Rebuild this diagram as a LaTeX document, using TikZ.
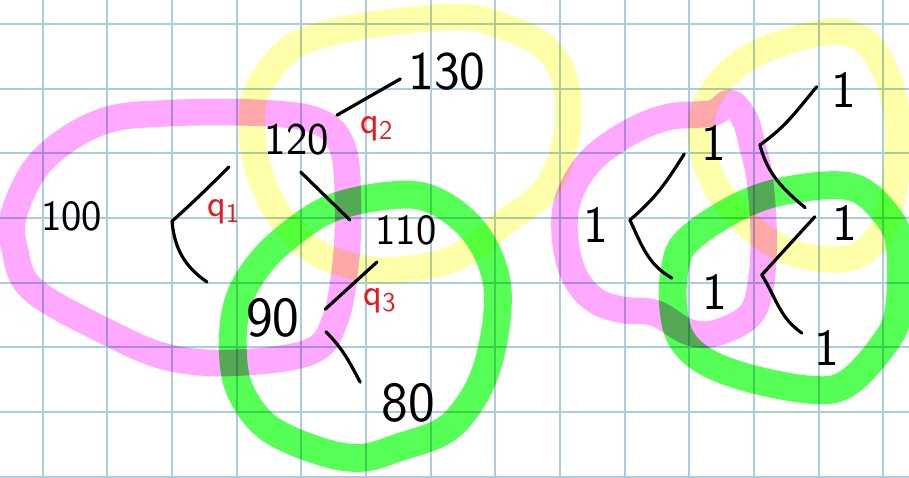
\documentclass[tikz,border=0pt]{standalone}
\usepackage{tikz}

\definecolor{gridblue}{RGB}{170,205,226}
\definecolor{hlpink}{RGB}{255,168,255}
\definecolor{hlyellow}{RGB}{255,255,170}
\definecolor{hlgreen}{RGB}{85,255,85}
\definecolor{qred}{RGB}{232,24,30}

\tikzset{
  pen/.style={line width=1.4pt, line cap=round, black},
  marker/.style={line width=0.41cm, line join=round, line cap=round},
  num/.style={inner sep=0pt, font=\sffamily\fontsize{19}{19}\selectfont},
  bignum/.style={inner sep=0pt, font=\sffamily\fontsize{25}{25}\selectfont},
  one/.style={inner sep=0pt, font=\sffamily\fontsize{23}{23}\selectfont},
  qlab/.style={inner sep=0pt, text=qred, font=\sffamily\fontsize{17}{17}\selectfont}
}

\begin{document}
\begin{tikzpicture}

\useasboundingbox (0,0) rectangle (14.056,7.391);
\clip (0,0) rectangle (14.056,7.391);

\fill[white] (0,0) rectangle (14.056,7.391);
\draw[gridblue, line width=0.9pt, xshift=0.66cm, yshift=0.02cm] (-1,-1) grid (14,8);

% left tree
\node[num] (n100) at (1.11,4.05) {100};
\node[num, font=\sffamily\fontsize{20}{20}\selectfont] (n120) at (4.59,5.23) {120};
\node[num, font=\sffamily\fontsize{24}{24}\selectfont] (n130) at (6.91,6.28) {130};
\node[num] (n110) at (6.28,3.83) {110};
\node[bignum] (n90) at (4.22,2.47) {90};
\node[bignum] (n80) at (6.31,1.16) {80};

\node[qlab] (q1) at (3.46,4.12) {q\textsubscript{1}};
\node[qlab] (q2) at (5.83,5.40) {q\textsubscript{2}};
\node[qlab] (q3) at (5.88,2.74) {q\textsubscript{3}};

\coordinate (ja) at (2.66,3.97);
\coordinate (ja1) at (3.54,4.81);
\coordinate (ja2) at (3.20,3.03);
\draw[pen] (ja) to[out=42,in=-135] (ja1);
\draw[pen] (ja) to[out=-85,in=145] (ja2);

\coordinate (b1) at (4.65,4.73);
\coordinate (b2) at (5.41,3.99);
\draw[pen] (b1) -- (b2);
\coordinate (c1) at (5.21,5.61);
\coordinate (c2) at (6.19,6.17);
\draw[pen] (c1) -- (c2);
\coordinate (d1) at (5.83,3.34);
\coordinate (d2) at (5.03,2.61);
\draw[pen] (d1) -- (d2);
\coordinate (e1) at (5.04,2.26);
\coordinate (e2) at (5.57,1.48);
\draw[pen] (e1) to[out=-45,in=118] (e2);

% right tree
\node[one] (r1) at (9.22,3.91) {1};
\node[one] (r2) at (11.03,5.18) {1};
\node[one] (r3) at (13.04,6.00) {1};
\node[one] (r4) at (13.07,3.94) {1};
\node[one] (r5) at (11.06,2.88) {1};
\node[one] (r6) at (12.79,2.01) {1};

\coordinate (jr1) at (9.74,3.99);
\coordinate (jr1a) at (10.58,5.01);
\coordinate (jr1b) at (10.39,3.09);
\draw[pen] (jr1) to[out=40,in=-122] (jr1a);
\draw[pen] (jr1) to[out=-65,in=150] (jr1b);

\coordinate (jr2) at (11.75,5.15);
\coordinate (jr2a) at (12.63,6.05);
\coordinate (jr2b) at (12.45,4.18);
\draw[pen] (jr2) to[out=35,in=-130] (jr2a);
\draw[pen] (jr2) to[out=-75,in=140] (jr2b);

\coordinate (jr3) at (11.78,3.14);
\coordinate (jr3a) at (12.60,4.04);
\coordinate (jr3b) at (12.40,2.24);
\draw[pen] (jr3) -- (jr3a);
\draw[pen] (jr3) to[out=-58,in=145] (jr3b);

% highlighter loops
\begin{scope}[blend mode=multiply]

\draw[marker, hlpink] plot[smooth cycle, tension=0.6] coordinates {
  (2.58,5.64) (4.13,5.64) (4.95,5.50) (5.30,5.10) (5.38,4.30) (5.35,3.37)
  (5.18,2.44) (4.79,1.95) (3.60,1.78) (2.58,1.87) (1.65,2.26) (0.51,2.91)
  (0.23,3.53) (0.22,4.10) (0.66,4.92) (1.55,5.50)};

\draw[marker, hlyellow] plot[smooth cycle, tension=0.6] coordinates {
  (7.04,7.13) (7.73,7.00) (8.43,6.66) (8.75,6.08) (8.75,5.23) (8.43,4.45)
  (7.81,3.96) (7.04,3.40) (6.19,3.22) (5.57,3.25) (4.90,3.48) (4.48,3.87)
  (4.18,4.30) (3.94,4.99) (3.91,5.77) (4.18,6.31) (4.64,6.73) (5.64,6.99)};

\draw[marker, hlgreen, line width=0.43cm] plot[smooth cycle, tension=0.6] coordinates {
  (6.19,4.38) (6.80,4.25) (7.35,3.79) (7.65,3.17) (7.69,2.55) (7.55,1.78)
  (7.30,1.21) (6.88,0.74) (6.19,0.48) (5.57,0.31) (4.90,0.43) (4.13,0.79)
  (3.71,1.36) (3.60,1.98) (3.66,2.64) (3.91,3.17) (4.38,3.68) (5.15,4.18)};

\draw[marker, hlpink] plot[smooth cycle, tension=0.6] coordinates {
  (11.01,5.64) (11.29,5.80) (11.52,5.54) (11.63,5.15) (11.75,4.61) (11.81,3.68)
  (11.75,2.91) (11.57,2.49) (11.06,2.24) (10.64,2.26) (10.13,2.55) (9.62,2.60)
  (9.20,2.75) (8.89,3.11) (8.74,3.68) (8.78,4.30) (9.12,4.89) (9.71,5.33) (10.33,5.58)};

\draw[marker, hlyellow] plot[smooth cycle, tension=0.6] coordinates {
  (10.86,5.61) (11.16,6.15) (11.75,6.59) (12.68,6.88) (13.22,6.85) (13.58,6.51)
  (13.81,5.92) (13.89,5.23) (13.82,4.45) (13.61,3.76) (13.14,3.40) (12.37,3.45)
  (11.75,3.76) (11.21,4.30) (10.90,4.92)};

\draw[marker, hlgreen, line width=0.43cm] plot[smooth cycle, tension=0.6] coordinates {
  (10.64,3.68) (11.41,4.19) (12.19,4.45) (13.17,4.50) (13.73,4.04) (13.92,3.53)
  (13.89,2.55) (13.64,2.03) (13.11,1.47) (12.60,1.36) (11.67,1.52) (10.95,1.78)
  (10.55,2.13) (10.41,2.64) (10.44,3.26)};

\end{scope}

\end{tikzpicture}
\end{document}
